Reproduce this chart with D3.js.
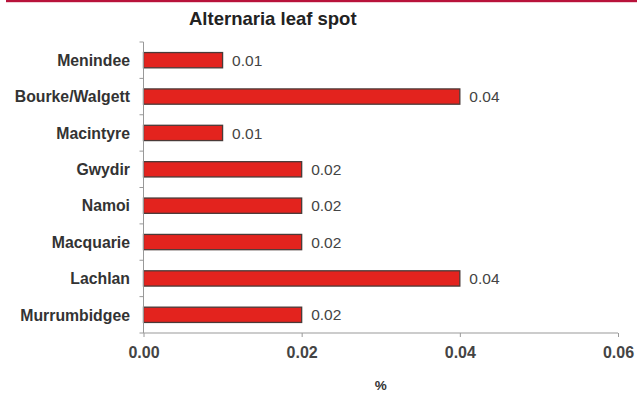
<!DOCTYPE html>
<html>
<head>
<meta charset="utf-8">
<script src="https://cdn.jsdelivr.net/npm/d3@7"></script>
<style>
  html, body { margin: 0; padding: 0; background: #fff; }
  svg { display: block; }
  text { font-family: "Liberation Sans", Arial, sans-serif; }
</style>
</head>
<body>
<svg id="chart" width="644" height="396"></svg>
<script>
// Alternaria leaf spot incidence by valley (%)
const categories = ["Menindee", "Bourke/Walgett", "Macintyre", "Gwydir", "Namoi", "Macquarie", "Lachlan", "Murrumbidgee"];
const values = [0.01, 0.04, 0.01, 0.02, 0.02, 0.02, 0.04, 0.02];
const xTicks = [0, 0.02, 0.04, 0.06];
const title = "Alternaria leaf spot";
const xTitle = "%";

const svg = d3.select("#chart");
const plotLeft = 143.5, plotRight = 618, plotTop = 42, plotBottom = 333;

// Header rule
svg.append("rect")
  .attr("x", 6).attr("y", 0).attr("width", 631).attr("height", 2.2)
  .attr("fill", "#b8123a");

const x = d3.scaleLinear().domain([0, 0.06]).range([plotLeft, plotRight]);
const y = d3.scaleBand().domain(categories).range([plotTop, plotBottom]).paddingInner(0.58).paddingOuter(0.29);

// Bars
svg.append("g").selectAll("rect")
  .data(categories)
  .join("rect")
  .attr("x", x(0))
  .attr("y", d => y(d))
  .attr("width", (d, i) => x(values[i]) - x(0))
  .attr("height", y.bandwidth())
  .attr("fill", "#e3231e")
  .attr("stroke", "#4a3a38")
  .attr("stroke-width", 1.3);

// Value labels
svg.append("g").selectAll("text")
  .data(categories)
  .join("text")
  .attr("x", (d, i) => x(values[i]) + 9.5)
  .attr("y", d => y(d) + y.bandwidth() / 2)
  .attr("dy", "0.36em")
  .attr("font-size", 15.5)
  .attr("fill", "#444")
  .text((d, i) => values[i].toFixed(2));

// Y axis: line, ticks between categories, labels
const yAxisG = svg.append("g");
yAxisG.append("line")
  .attr("x1", plotLeft).attr("x2", plotLeft).attr("y1", plotTop).attr("y2", plotBottom)
  .attr("stroke", "#999").attr("stroke-width", 1);
const boundaries = d3.range(categories.length + 1).map(i => plotTop + i * (plotBottom - plotTop) / categories.length);
yAxisG.selectAll("line.tick")
  .data(boundaries)
  .join("line")
  .attr("class", "tick")
  .attr("x1", plotLeft - 4).attr("x2", plotLeft)
  .attr("y1", d => d).attr("y2", d => d)
  .attr("stroke", "#999");
yAxisG.selectAll("text")
  .data(categories)
  .join("text")
  .attr("x", 130)
  .attr("y", d => y(d) + y.bandwidth() / 2)
  .attr("dy", "0.36em")
  .attr("text-anchor", "end")
  .attr("font-size", 15.8)
  .attr("font-weight", "bold")
  .attr("fill", "#333")
  .text(d => d);

// X axis
const xAxis = d3.axisBottom(x)
  .tickValues(xTicks)
  .tickFormat(d3.format(".2f"))
  .tickSize(4)
  .tickSizeOuter(0)
  .tickPadding(10);
const xg = svg.append("g")
  .attr("transform", `translate(0,${plotBottom})`)
  .call(xAxis);
xg.select(".domain").attr("stroke", "#999").attr("d", `M${plotLeft},0H${plotRight}`);
xg.selectAll(".tick line").attr("stroke", "#999");
xg.selectAll(".tick text")
  .attr("font-family", "Liberation Sans, Arial, sans-serif")
  .attr("font-size", 16)
  .attr("font-weight", "bold")
  .attr("fill", "#444");

// Titles
svg.append("text")
  .attr("x", 189).attr("y", 25)
  .attr("text-anchor", "start")
  .attr("font-size", 18.5)
  .attr("font-weight", "bold")
  .attr("fill", "#222")
  .text(title);

svg.append("text")
  .attr("x", (plotLeft + plotRight) / 2).attr("y", 390)
  .attr("text-anchor", "middle")
  .attr("font-size", 13.5)
  .attr("font-weight", "bold")
  .attr("fill", "#333")
  .text(xTitle);
</script>
</body>
</html>
